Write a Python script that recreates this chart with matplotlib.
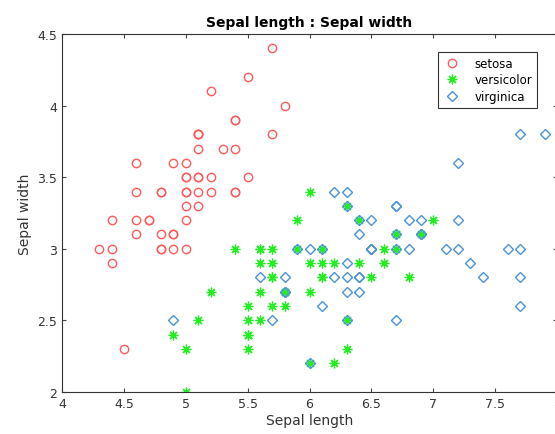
import matplotlib
matplotlib.use("Agg")
import matplotlib.pyplot as plt

setosa_sl = [5.1,4.9,4.7,4.6,5.0,5.4,4.6,5.0,4.4,4.9,5.4,4.8,4.8,4.3,5.8,5.7,5.4,5.1,5.7,5.1,5.4,5.1,4.6,5.1,4.8,5.0,5.0,5.2,5.2,4.7,4.8,5.4,5.2,5.5,4.9,5.0,5.5,4.9,4.4,5.1,5.0,4.5,4.4,5.0,5.1,4.8,5.1,4.6,5.3,5.0]
setosa_sw = [3.5,3.0,3.2,3.1,3.6,3.9,3.4,3.4,2.9,3.1,3.7,3.4,3.0,3.0,4.0,4.4,3.9,3.5,3.8,3.8,3.4,3.7,3.6,3.3,3.4,3.0,3.4,3.5,3.4,3.2,3.1,3.4,4.1,4.2,3.1,3.2,3.5,3.6,3.0,3.4,3.5,2.3,3.2,3.5,3.8,3.0,3.8,3.2,3.7,3.3]
versicolor_sl = [7.0,6.4,6.9,5.5,6.5,5.7,6.3,4.9,6.6,5.2,5.0,5.9,6.0,6.1,5.6,6.7,5.6,5.8,6.2,5.6,5.9,6.1,6.3,6.1,6.4,6.6,6.8,6.7,6.0,5.7,5.5,5.5,5.8,6.0,5.4,6.0,6.7,6.3,5.6,5.5,5.5,6.1,5.8,5.0,5.6,5.7,5.7,6.2,5.1,5.7]
versicolor_sw = [3.2,3.2,3.1,2.3,2.8,2.8,3.3,2.4,2.9,2.7,2.0,3.0,2.2,2.9,2.9,3.1,3.0,2.7,2.2,2.5,3.2,2.8,2.5,2.8,2.9,3.0,2.8,3.0,2.9,2.6,2.4,2.4,2.7,2.7,3.0,3.4,3.1,2.3,3.0,2.5,2.6,3.0,2.6,2.3,2.7,3.0,2.9,2.9,2.5,2.8]
virginica_sl = [6.3,5.8,7.1,6.3,6.5,7.6,4.9,7.3,6.7,7.2,6.5,6.4,6.8,5.7,5.8,6.4,6.5,7.7,7.7,6.0,6.9,5.6,7.7,6.3,6.7,7.2,6.2,6.1,6.4,7.2,7.4,7.9,6.4,6.3,6.1,7.7,6.3,6.4,6.0,6.9,6.7,6.9,5.8,6.8,6.7,6.7,6.3,6.5,6.2,5.9]
virginica_sw = [3.3,2.7,3.0,2.9,3.0,3.0,2.5,2.9,2.5,3.6,3.2,2.7,3.0,2.5,2.8,3.2,3.0,3.8,2.6,2.2,3.2,2.8,2.8,2.7,3.3,3.2,2.8,3.0,2.8,3.0,2.8,3.8,2.8,2.8,2.6,3.0,3.4,3.1,3.0,3.1,3.1,3.1,2.7,3.2,3.3,3.0,2.5,3.0,3.4,3.0]

xticks = [4, 4.5, 5, 5.5, 6, 6.5, 7, 7.5, 8]
xticklabels = ['4', '4.5', '5', '5.5', '6', '6.5', '7', '7.5', '8']
yticks = [2, 2.5, 3, 3.5, 4, 4.5]
yticklabels = ['2', '2.5', '3', '3.5', '4', '4.5']

fig = plt.figure(figsize=(5.55, 4.35), dpi=100)
ax = fig.add_axes([62/555, 1-393/435, 495/555, 358/435])

ax.plot(setosa_sl, setosa_sw, linestyle='none', marker='o', markersize=6,
        markerfacecolor='none', markeredgecolor='#ff5a5a', markeredgewidth=1.0, label='setosa')
ax.plot(versicolor_sl, versicolor_sw, linestyle='none', marker=(8, 2, 0), markersize=7,
        color='#22ee22', markeredgecolor='#22ee22', markeredgewidth=0.9, label='versicolor')
ax.plot(virginica_sl, virginica_sw, linestyle='none', marker='D', markersize=5,
        markerfacecolor='none', markeredgecolor='#4a93d6', markeredgewidth=1.0, label='virginica')

ax.set_xlim(4, 8)
ax.set_ylim(2, 4.5)
ax.set_xticks(xticks)
ax.set_xticklabels(xticklabels)
ax.set_yticks(yticks)
ax.set_yticklabels(yticklabels)
ax.tick_params(direction='in', top=True, right=True, length=3, width=0.8,
               colors='#444444', labelsize=9, labelcolor='#333333')
for s in ax.spines.values():
    s.set_color('#333333')
    s.set_linewidth(0.8)

ax.set_xlabel('Sepal length', fontsize=10, color='#333333', labelpad=2)
ax.set_ylabel('Sepal width', fontsize=10, color='#333333', labelpad=4)
ax.set_title('Sepal length : Sepal width', fontsize=10, fontweight='bold', pad=6)

leg = ax.legend(loc='upper right', bbox_to_anchor=((543-62)/495, 0.966), fontsize=8.5,
                frameon=True, fancybox=False, edgecolor='#333333', framealpha=1,
                handlelength=1.5, borderpad=0.4, labelspacing=0.3, handletextpad=1.2)
leg.get_frame().set_linewidth(0.8)

fig.savefig('out.png', dpi=100)
